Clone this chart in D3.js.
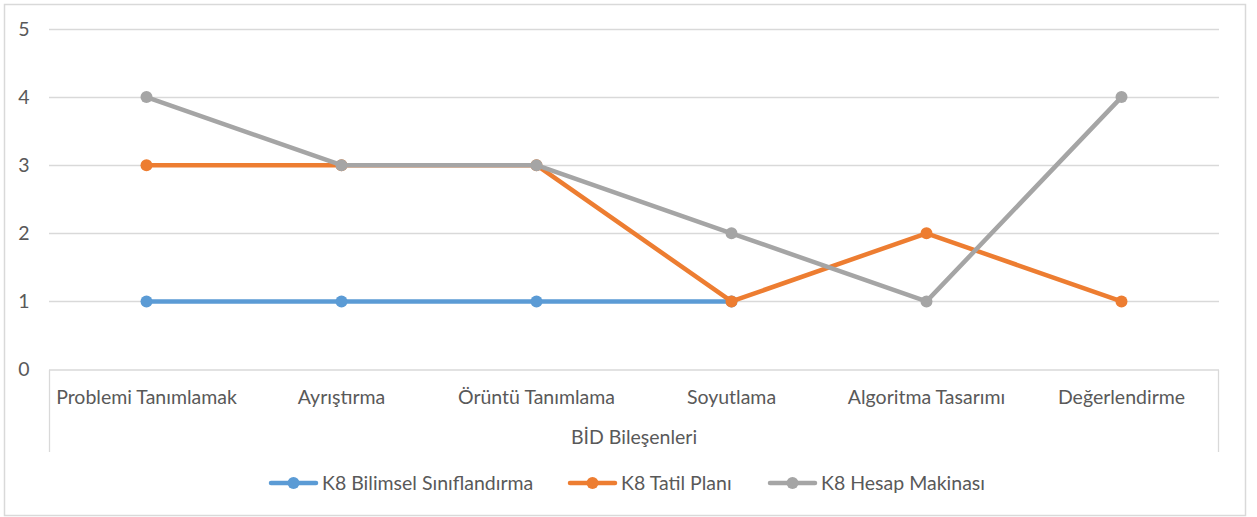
<!DOCTYPE html>
<html><head><meta charset="utf-8">
<script src="https://cdn.jsdelivr.net/npm/d3@7"></script>
<style>
html,body{margin:0;padding:0;background:#fff;}
svg text{font-family:Lato,"Open Sans",sans-serif;fill:#595959;}
</style></head>
<body>
<svg id="chart" width="1257" height="517"></svg>
<script>
const categories = ["Problemi Tanımlamak","Ayrıştırma","Örüntü Tanımlama","Soyutlama","Algoritma Tasarımı","Değerlendirme"];
const seriesNames = ["K8 Bilimsel Sınıflandırma","K8 Tatil Planı","K8 Hesap Makinası"];
const bilimsel = [1,1,1,1,null,null];
const tatil = [3,3,3,1,2,1];
const hesap = [4,3,3,2,1,4];
const yTicks = [0,1,2,3,4,5];
const colors = ["#5B9BD5","#ED7D31","#A5A5A5"];
const xTitle = "BİD Bileşenleri";

(function(){
const FS = 19.5;
const svg = d3.select("#chart");
svg.append("rect").attr("x",4.5).attr("y",4.5).attr("width",1241).attr("height",511)
  .attr("fill","#fff").attr("stroke","#D9D9D9").attr("stroke-width",1.5);

const pL=49, pR=1219, pT=29, pB=369.5;
const x = d3.scaleBand().domain(categories).range([pL,pR]);
const y = d3.scaleLinear().domain([0,5]).range([pB,pT]);

svg.append("g").selectAll("line").data(yTicks.filter(d=>d>0)).join("line")
  .attr("x1",pL).attr("x2",pR).attr("y1",d=>Math.round(y(d))+0.5).attr("y2",d=>Math.round(y(d))+0.5)
  .attr("stroke","#D9D9D9").attr("stroke-width",1.3);

svg.append("g").selectAll("text").data(yTicks).join("text")
  .attr("x",24).attr("y",d=>y(d)).attr("dy","0.35em").attr("text-anchor","middle")
  .attr("font-size",FS).text(d=>d);

const axG = svg.append("g");
axG.append("line").attr("x1",pL).attr("x2",pR).attr("y1",370).attr("y2",370).attr("stroke","#D9D9D9").attr("stroke-width",1.5);
axG.append("line").attr("x1",pL+0.5).attr("x2",pL+0.5).attr("y1",370).attr("y2",452).attr("stroke","#D9D9D9").attr("stroke-width",1.3);
axG.append("line").attr("x1",pR-0.5).attr("x2",pR-0.5).attr("y1",370).attr("y2",452).attr("stroke","#D9D9D9").attr("stroke-width",1.3);

svg.append("g").selectAll("text").data(categories).join("text")
  .attr("x",d=>x(d)+x.bandwidth()/2).attr("y",397).attr("dy","0.35em").attr("text-anchor","middle")
  .attr("font-size",FS).text(d=>d);

svg.append("text").attr("x",(pL+pR)/2).attr("y",437).attr("dy","0.35em").attr("text-anchor","middle")
  .attr("font-size",FS).text(xTitle);

const allSeries = [bilimsel,tatil,hesap];
const line = d3.line().defined(d=>d!=null).x((d,i)=>x(categories[i])+x.bandwidth()/2).y(d=>y(d));
allSeries.forEach((s,k)=>{
  const g = svg.append("g");
  g.append("path").datum(s).attr("d",line).attr("fill","none").attr("stroke",colors[k])
    .attr("stroke-width",4.5).attr("stroke-linejoin","round").attr("stroke-linecap","round");
  g.selectAll("circle").data(s.map((v,i)=>({v,i})).filter(d=>d.v!=null)).join("circle")
    .attr("cx",d=>x(categories[d.i])+x.bandwidth()/2).attr("cy",d=>y(d.v)).attr("r",6)
    .attr("fill",colors[k]);
});

const legX = [271,570,770];
const lg = svg.append("g");
seriesNames.forEach((n,k)=>{
  const g = lg.append("g").attr("transform",`translate(${legX[k]},483)`);
  g.append("line").attr("x1",0).attr("x2",45).attr("y1",0).attr("y2",0).attr("stroke",colors[k]).attr("stroke-width",4.5).attr("stroke-linecap","round");
  g.append("circle").attr("cx",22.5).attr("cy",0).attr("r",6).attr("fill",colors[k]);
  g.append("text").attr("x",51).attr("y",0).attr("dy","0.35em").attr("font-size",FS).text(n);
});
})();
</script>
</body></html>
